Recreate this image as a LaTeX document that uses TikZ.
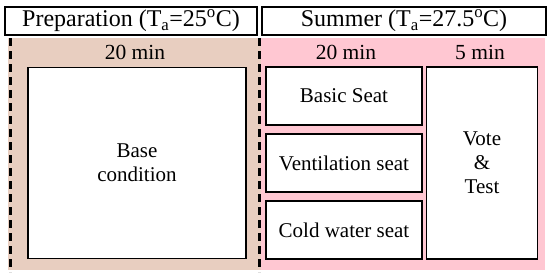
\documentclass[tikz,border=0pt]{standalone}
\usepackage{fontspec}
\setmainfont{Liberation Serif}
\usepackage{xcolor}
\usetikzlibrary{positioning}
\definecolor{prepfill}{HTML}{E8CEC0}
\definecolor{summerfill}{HTML}{FFC7D2}

\begin{document}
\begin{tikzpicture}[x=1pt, y=-1pt,
    header/.style={draw=black, fill=white, line width=1.3pt, minimum height=28pt, inner sep=0pt, font=\fontsize{24}{26}\selectfont},
    phase/.style={draw=black, fill=white, line width=1.5pt, inner sep=0pt, align=center, font=\fontsize{21}{24}\selectfont},
    timelbl/.style={font=\fontsize{21.5}{22}\selectfont, inner sep=0pt},
    divider/.style={draw=black, line width=3pt, dash pattern=on 8pt off 5pt}
]
    \useasboundingbox (0,0) rectangle (550,276);

    % Backgrounds
    \fill[prepfill] (8,38) rectangle (261,270);
    \fill[summerfill] (261,38) rectangle (545,270);

    % Headers
    \node[header, minimum width=252pt] (prep_head) at (131,21) {Preparation (T\textsubscript{a}=25\textsuperscript{o}C)};
    \node[header, minimum width=284pt] (summer_head) at (404,21) {Summer (T\textsubscript{a}=27.5\textsuperscript{o}C)};

    % Dashed dividers
    \draw[divider] (10,38) -- (10,272);
    \draw[divider] (259,38) -- (259,272);

    % Preparation
    \node[timelbl] (prep_time) at (135,52) {20 min};
    \node[phase, minimum width=218pt, minimum height=191pt] (base) at (137,163) {Base\\condition};

    % Summer
    \node[timelbl] (summer_time) at (346,52) {20 min};
    \node[timelbl] (vote_time) at (480,52) {5 min};
    \node[phase, minimum width=156pt, minimum height=58pt] (basic) at (344,96) {Basic Seat};
    \node[phase, minimum width=156pt, minimum height=58pt] (vent) at (344,163) {Ventilation seat};
    \node[phase, minimum width=156pt, minimum height=58pt] (cold) at (344,230) {Cold water seat};
    \node[phase, minimum width=111pt, minimum height=192pt] (vote) at (482,163) {Vote\\\&\\Test};

\end{tikzpicture}
\end{document}
